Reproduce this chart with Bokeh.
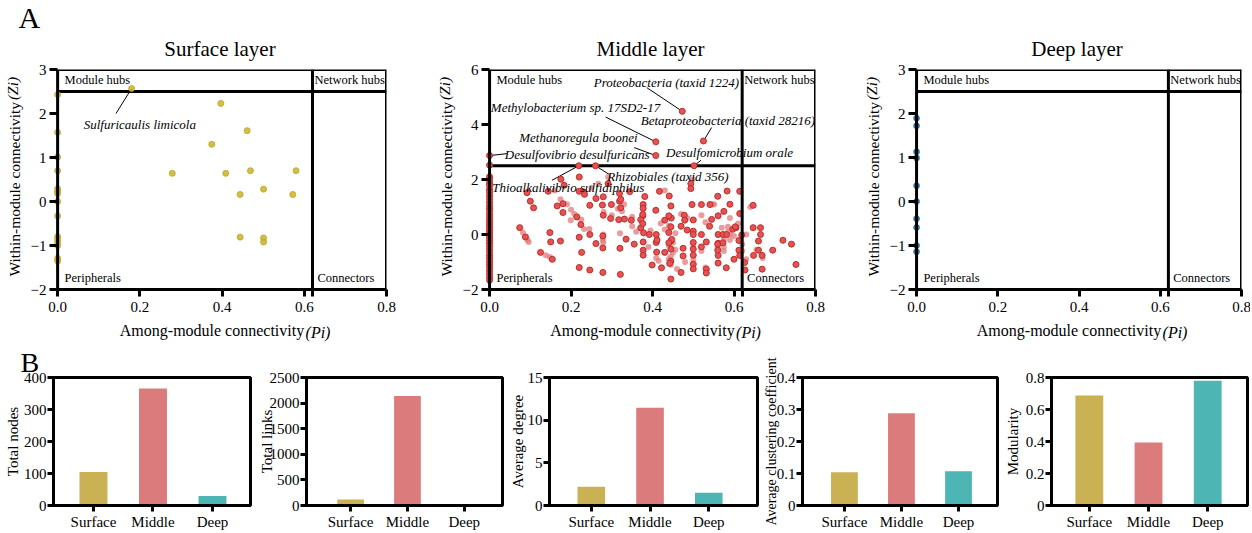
from bokeh.plotting import figure
from bokeh.layouts import row, column
from bokeh.models import Range1d, Span, Label, FixedTicker, LinearAxis, Title
from bokeh.embed import file_html
from bokeh.resources import INLINE

FONT = "Liberation Serif"
NB = "\u00a0"

# ---------------- Panel A data: among-module (Pi) / within-module (Zi) ----------------
PI_THR = 0.62
ZI_THR = 2.5

surf_pi = [0.0, 0.0, 0.0, 0.0, 0.0, 0.0, 0.0, 0.0, 0.0, 0.0, 0.0, 0.0, 0.0, 0.0, 0.0,
           0.397, 0.461, 0.375, 0.279, 0.409, 0.469, 0.580, 0.444, 0.501, 0.572, 0.444, 0.501, 0.501]
surf_zi = [2.43, 1.57, 1.01, 0.70, 0.29, 0.23, 0.18, 0.0, -0.33, -0.80, -0.86, -0.93, -1.00, -1.29, -1.35,
           2.23, 1.61, 1.30, 0.64, 0.64, 0.70, 0.70, 0.16, 0.28, 0.16, -0.81, -0.83, -0.92]
surf_hub_names = ["Sulfuricaulis limicola"]
surf_hub_pi = [0.180]
surf_hub_zi = [2.57]
surf_lab_x = [0.200]
surf_lab_y = [1.75]
surf_lead_x = [0.142]
surf_lead_y = [2.00]

mid_zero_zi = [2.52, 2.10, 2.00, 1.88, 1.79, 1.65, 1.55, 1.42, 1.31, 1.18, 1.06, 0.95, 0.88, 0.76,
               0.66, 0.55, 0.46, 0.36, 0.28, 0.18, 0.09, 0.00, -0.09, -0.20, -0.31, -0.40, -0.51,
               -0.62, -0.75, -0.85, -0.96, -1.07, -1.18, -1.30, -1.42, -1.54, -1.66]
mid_pi = [0.175, 0.220, 0.183, 0.144, 0.092, 0.231, 0.261, 0.279, 0.299, 0.319, 0.319, 0.381, 0.377,
          0.377, 0.100, 0.108, 0.166, 0.180, 0.180, 0.214, 0.224, 0.246, 0.297, 0.317, 0.331, 0.376,
          0.371, 0.494, 0.494, 0.417, 0.441, 0.445, 0.408, 0.430, 0.446, 0.478, 0.497, 0.520, 0.541,
          0.560, 0.545, 0.561, 0.575, 0.583, 0.614, 0.614, 0.647, 0.500, 0.344, 0.246, 0.278, 0.148,
          0.074, 0.088, 0.392, 0.409, 0.445, 0.485, 0.500, 0.500, 0.520, 0.561, 0.597, 0.605, 0.619,
          0.647, 0.665, 0.665, 0.335, 0.220, 0.261, 0.278, 0.320, 0.174, 0.226, 0.125, 0.154, 0.377,
          0.377, 0.377, 0.409, 0.445, 0.445, 0.445, 0.500, 0.475, 0.475, 0.500, 0.500, 0.500, 0.500,
          0.532, 0.561, 0.561, 0.561, 0.612, 0.612, 0.614, 0.626, 0.627, 0.660, 0.660, 0.648, 0.669,
          0.669, 0.695, 0.720, 0.741, 0.752, 0.410, 0.321, 0.278, 0.246, 0.220, 0.399, 0.422, 0.445,
          0.470, 0.532, 0.532, 0.581, 0.220, 0.322, 0.371,
          0.279, 0.348, 0.376, 0.440, 0.479, 0.603, 0.378, 0.440, 0.447, 0.573, 0.582, 0.150,
          0.440, 0.560, 0.573, 0.560, 0.442, 0.233, 0.291, 0.277, 0.322, 0.376, 0.411, 0.520,
          0.590, 0.470, 0.355, 0.430, 0.600, 0.540]
mid_zi = [2.01, 2.09, 1.79, 1.57, 1.52, 1.55, 1.31, 1.37, 1.09, 1.21, 1.49, 1.38, 1.09,
          0.95, 1.21, 0.97, 1.04, 1.12, 0.80, 0.64, 0.36, 1.06, 0.58, 0.54, 0.56, 0.68,
          0.24, 1.85, 1.67, 1.57, 1.40, 1.04, 0.88, 0.52, 0.60, 0.70, 1.09, 1.09, 1.09,
          1.39, 0.55, 0.68, 0.84, 1.58, 1.57, 0.76, 1.06, 0.53, 1.56, 0.00, -0.05, 0.07,
          0.25, -0.09, 0.00, 0.00, 0.28, 0.16, 0.12, 0.00, 0.00, 0.00, 0.19, 0.25, -0.02,
          0.25, 0.25, 0.00, -0.17, -0.10, -0.33, -0.49, -0.50, -0.24, -0.65, -0.65, -0.90, -0.27,
          -0.57, -0.75, -0.29, -0.24, -0.53, -0.97, -0.29, -0.50, -0.78, -0.53, -0.75, -1.08, -1.25,
          -0.27, -0.32, -0.76, -1.04, -0.22, -0.57, -0.76, -1.02, -1.29, -0.24, -0.57, -0.76, -0.76,
          -1.26, -0.57, -0.21, -0.35, -1.09, -0.64, -1.45, -1.38, -1.29, -1.20, -1.11, -1.21, -1.62,
          -1.38, -1.26, -1.40, -1.21, 1.57, 0.97, 0.54,
          0.70, 0.52, 0.40, 0.68, 0.52, 0.28, 0.06, 0.07, -0.18, 0.00, 0.00, -0.27,
          -0.30, -0.35, -0.30, -0.57, -1.05, 1.46, 1.85, 1.07, 1.28, 0.73, -0.20, -0.45,
          1.10, 0.30, -0.35, -0.65, -0.90, 0.30]
mid_pi_lt = [0.291, 0.498, 0.430, 0.174, 0.190, 0.199, 0.208, 0.225, 0.232, 0.280, 0.315, 0.325, 0.350,
             0.278, 0.278, 0.093, 0.082, 0.148, 0.138, 0.300, 0.430, 0.440, 0.440, 0.409, 0.445, 0.445,
             0.460, 0.470, 0.485, 0.500, 0.500, 0.530, 0.548, 0.560, 0.575, 0.575, 0.590, 0.590, 0.600,
             0.630, 0.630, 0.640, 0.590, 0.570, 0.390, 0.320, 0.360, 0.200, 0.245, 0.520, 0.520, 0.620,
             0.655, 0.670, 0.160, 0.250, 0.330, 0.279, 0.279, 0.585, 0.450, 0.450, 0.440,
             0.096, 0.551, 0.267, 0.456, 0.456, 0.575, 0.585, 0.610, 0.480, 0.420, 0.395, 0.530,
             0.620, 0.415, 0.350]
mid_zi_lt = [2.09, 2.00, 1.60, 1.28, 1.10, 0.52, 0.75, 0.55, 0.20, 0.82, 0.94, 0.85, 0.65,
             -0.20, -0.10, -0.20, 0.06, -0.82, -0.75, 0.70, 0.18, 0.32, -0.40, -0.85, -0.80, -1.10,
             -1.25, 0.75, 0.60, -0.40, -0.90, -1.20, 1.09, -0.45, -0.45, -0.60, 0.00, 0.60, -0.05,
             0.00, -0.90, 1.00, -0.20, 0.25, -0.45, 0.05, 0.10, 0.90, 0.20, 0.70, -0.60, -0.60,
             -0.55, -0.85, 1.60, 1.70, 1.10, 0.00, -0.30, 0.28, -0.30, -0.65, -0.90,
             -0.27, 1.10, 1.85, 0.05, -0.55, -0.15, 0.10, 0.40, -1.00, 0.40, 0.15, 0.45,
             -0.35, -0.95, 0.30]
mid_hub_names = ["Proteobacteria (taxid 1224)", "Methylobacterium sp. 17SD2-17",
                 "Betaproteobacteria (taxid 28216)", "Methanoregula boonei",
                 "Desulfovibrio desulfuricans", "Desulfomicrobium orale",
                 "Thioalkalivibrio sulfidiphilus", "Rhizobiales (taxid 356)"]
mid_hub_pi = [0.473, 0.408, 0.525, 0.408, 0.000, 0.502, 0.219, 0.260]
mid_hub_zi = [4.48, 3.37, 3.40, 2.87, 2.87, 2.50, 2.50, 2.50]
mid_lab_x = [0.434, 0.211, 0.585, 0.218, 0.215, 0.589, 0.193, 0.438]
mid_lab_y = [5.54, 4.61, 4.15, 3.51, 2.91, 3.00, 1.71, 2.12]
mid_lead_x = [0.386, 0.285, 0.545, 0.355, 0.043, 0.519, 0.153, 0.293]
mid_lead_y = [5.34, 4.27, 3.89, 3.16, 2.94, 2.70, 1.97, 2.19]

deep_pi = [0.0, 0.0, 0.0, 0.0, 0.0, 0.0, 0.0, 0.0, 0.0, 0.0]
deep_zi = [1.89, 1.72, 1.13, 0.99, 0.36, 0.00, -0.39, -0.59, -1.00, -1.14]

# ---------------- Panel B data: network properties ----------------
layers = ["Surface", "Middle", "Deep"]
total_nodes = [105, 366, 30]
total_links = [115, 2140, 22]
avg_degree = [2.2, 11.45, 1.5]
avg_clustering = [0.104, 0.288, 0.107]
modularity = [0.688, 0.393, 0.779]
bar_colors = ["#CAB254", "#DB7B7B", "#4DB6B4"]

x_tick_vals = [0.0, 0.2, 0.4, 0.6, 0.8]

# ---------------- helpers ----------------
FW, FH = 336, 220
XR = (-0.01, 0.8)
XSC = (XR[1] - XR[0]) / FW  # data units per px


def lab(p, x, y, text, size, style="normal", align="left", baseline="middle", color="black"):
    p.add_layout(Label(x=x, y=y, text=text, text_font=FONT, text_font_size=f"{size}px",
                       text_font_style=style, text_align=align, text_baseline=baseline,
                       text_color=color))


def add_title(p, text, size, align="center", offset=0, standoff=0):
    p.add_layout(Title(text=text, align=align, offset=offset, standoff=standoff,
                       text_font=FONT, text_font_size=f"{size}px", text_font_style="normal",
                       text_color="black"), "above")


def extra_axis_label(p, side, text, size, standoff):
    ax = LinearAxis(ticker=FixedTicker(ticks=[]), axis_line_color=None,
                    major_tick_line_color=None, minor_tick_line_color=None,
                    major_tick_out=0, major_tick_in=0, major_label_standoff=0,
                    axis_label=text, axis_label_standoff=standoff,
                    axis_label_text_font=FONT, axis_label_text_font_size=f"{size}px",
                    axis_label_text_font_style="italic", axis_label_text_color="black")
    p.add_layout(ax, side)


def scatter_panel(title, yr, yticks, left, right):
    ysc = (yr[1] - yr[0]) / FH
    p = figure(width=left + FW + right, height=69 + FH + 56,
               x_range=Range1d(*XR), y_range=Range1d(*yr),
               output_backend="svg", toolbar_location=None,
               min_border_left=left, min_border_right=right,
               min_border_top=69, min_border_bottom=56)
    p.outline_line_color = None
    p.grid.visible = False
    add_title(p, title, 21, standoff=17)

    xa = p.xaxis[0]
    xa.ticker = FixedTicker(ticks=x_tick_vals + [PI_THR])
    ov = {v: f"{v:.1f}" for v in x_tick_vals}
    ov[PI_THR] = ""
    xa.major_label_overrides = ov
    xa.axis_line_width = 3
    xa.major_tick_line_width = 3
    xa.major_tick_out = 7
    xa.major_tick_in = 0
    xa.minor_tick_line_color = None
    xa.major_label_standoff = 5
    xa.major_label_text_font = FONT
    xa.major_label_text_font_size = "15px"
    xa.major_label_text_color = "black"
    xa.axis_label = "Among-module connectivity" + NB * 4
    xa.axis_label_standoff = 7
    xa.axis_label_text_font = FONT
    xa.axis_label_text_font_size = "16px"
    xa.axis_label_text_font_style = "normal"
    xa.axis_label_text_color = "black"

    ya = p.yaxis[0]
    ya.ticker = FixedTicker(ticks=yticks)
    ya.axis_line_color = None
    ya.major_tick_line_width = 3
    ya.major_tick_out = 4
    ya.major_tick_in = 4
    ya.minor_tick_line_color = None
    ya.major_label_standoff = 3
    ya.major_label_text_font = FONT
    ya.major_label_text_font_size = "15px"
    ya.major_label_text_color = "black"
    ya.axis_label = "Within-module connectivity" + NB * 5
    ya.axis_label_standoff = 5
    ya.axis_label_text_font = FONT
    ya.axis_label_text_font_size = "15.5px"
    ya.axis_label_text_font_style = "normal"
    ya.axis_label_text_color = "black"

    extra_axis_label(p, "below", NB * 49 + "(Pi)", 16, -18)
    extra_axis_label(p, "left", NB * 47 + "(Zi)", 15.5, -18)

    # frame lines and thresholds
    p.add_layout(Span(location=0.0, dimension="height", line_color="black", line_width=3))
    p.add_layout(Span(location=XR[1], dimension="height", line_color="black", line_width=3))
    p.add_layout(Span(location=yr[1], dimension="width", line_color="black", line_width=3))
    p.add_layout(Span(location=PI_THR, dimension="height", line_color="black", line_width=3))
    p.segment(x0=[0.0], y0=[ZI_THR], x1=[XR[1]], y1=[ZI_THR], line_color="black", line_width=3)

    # quadrant labels
    lab(p, 7 * XSC, yr[1] - 10 * ysc, "Module hubs", 12.5)
    lab(p, PI_THR + 2 * XSC, yr[1] - 10 * ysc, "Network hubs", 12.5)
    lab(p, 7 * XSC, yr[0] + 12 * ysc, "Peripherals", 12.5)
    lab(p, PI_THR + 5 * XSC, yr[0] + 12 * ysc, "Connectors", 12.5)
    return p


# ---------------- Surface ----------------
f1 = scatter_panel("Surface layer", (-2, 3), [-2, -1, 0, 1, 2, 3], 50, 46)
add_title(f1, "A", 30, align="left", offset=-35, standoff=-14)
f1.segment(x0=surf_lead_x, y0=surf_lead_y, x1=surf_hub_pi, y1=surf_hub_zi, line_color="black", line_width=1)
f1.scatter(x=surf_pi, y=surf_zi, size=6, fill_color="#CDB830", line_color="#B9A624", line_width=0.8, fill_alpha=0.9)
f1.scatter(x=surf_hub_pi, y=surf_hub_zi, size=6, fill_color="#CDB830", line_color="#B9A624", line_width=0.8, fill_alpha=0.9)
for n, x, y in zip(surf_hub_names, surf_lab_x, surf_lab_y):
    lab(f1, x, y, n, 13, style="italic", align="center")

# ---------------- Middle ----------------
f2 = scatter_panel("Middle layer", (-2, 6), [-2, 0, 2, 4, 6], 47, 44)
f2.segment(x0=mid_lead_x, y0=mid_lead_y, x1=mid_hub_pi, y1=mid_hub_zi, line_color="black", line_width=1)
f2.scatter(x=mid_pi_lt, y=mid_zi_lt, size=6, fill_color="#E37B7B", line_color=None, fill_alpha=0.75)
f2.scatter(x=[0.0] * len(mid_zero_zi), y=mid_zero_zi, size=6, fill_color="#E25454", line_color="#C42A2A", line_width=1)
f2.scatter(x=mid_pi, y=mid_zi, size=6, fill_color="#E25454", line_color="#C42A2A", line_width=1)
f2.scatter(x=mid_hub_pi, y=mid_hub_zi, size=6, fill_color="#E25454", line_color="#C42A2A", line_width=1)
for n, x, y in zip(mid_hub_names, mid_lab_x, mid_lab_y):
    lab(f2, x, y, n, 13, style="italic", align="center")

# ---------------- Deep ----------------
f3 = scatter_panel("Deep layer", (-2, 3), [-2, -1, 0, 1, 2, 3], 46, 9)
f3.scatter(x=deep_pi, y=deep_zi, size=6, fill_color="#3079AA", line_color="#2A6A93", line_width=0.6)


# ---------------- Panel B bars ----------------
def bar_panel(vals, ymax, yticks, ylabel, left, right, fw, xr, lab_standoff, lab_size=15):
    p = figure(width=left + fw + right, height=31 + 131 + 25,
               x_range=Range1d(*xr), y_range=Range1d(0, ymax),
               output_backend="svg", toolbar_location=None,
               min_border_left=left, min_border_right=right,
               min_border_top=31, min_border_bottom=25)
    xs = list(range(1, len(layers) + 1))
    p.vbar(x=xs, top=vals, bottom=0, width=0.47, fill_color=bar_colors, line_color=None)
    p.grid.visible = False
    p.outline_line_color = "black"
    p.outline_line_width = 3
    xa = p.xaxis[0]
    xa.ticker = FixedTicker(ticks=xs)
    xa.major_label_overrides = {i: n for i, n in zip(xs, layers)}
    ya = p.yaxis[0]
    ya.ticker = FixedTicker(ticks=yticks)
    ya.axis_label = ylabel
    ya.axis_label_standoff = lab_standoff
    ya.axis_label_text_font = FONT
    ya.axis_label_text_font_size = f"{lab_size}px"
    ya.axis_label_text_font_style = "normal"
    ya.axis_label_text_color = "black"
    for ax in (xa, ya):
        ax.axis_line_width = 3
        ax.major_tick_line_width = 3
        ax.major_tick_out = 6
        ax.major_tick_in = 0
        ax.minor_tick_line_color = None
        ax.major_label_text_font = FONT
        ax.major_label_text_font_size = "15px"
        ax.major_label_text_color = "black"
    xa.major_label_standoff = 2
    ya.major_label_standoff = 1
    return p


b1 = bar_panel(total_nodes, 400, [0, 100, 200, 300, 400], "Total nodes", 53, 5, 197, (0.328, 3.639), 0)
b2 = bar_panel(total_links, 2500, [0, 500, 1000, 1500, 2000, 2500], "Total links", 47, 4, 200, (0.224, 3.672), -8)
b3 = bar_panel(avg_degree, 15, [0, 5, 10, 15], "Average degree", 42, 3, 209, (0.288, 3.830), -1)
b4 = bar_panel(avg_clustering, 0.4, [0, 0.1, 0.2, 0.3, 0.4], "Average clustering coefficient", 37, 4, 200, (0.265, 3.684), -5, 14)
b5 = bar_panel(modularity, 0.8, [0, 0.2, 0.4, 0.6, 0.8], "Modularity", 49, 3, 197, (0.361, 3.672), 2)
add_title(b1, "B", 28, align="left", offset=-33, standoff=-1)

layout = column(row(f1, f2, f3), row(b1, b2, b3, b4, b5))
open("out.html", "w").write(file_html(layout, INLINE))
